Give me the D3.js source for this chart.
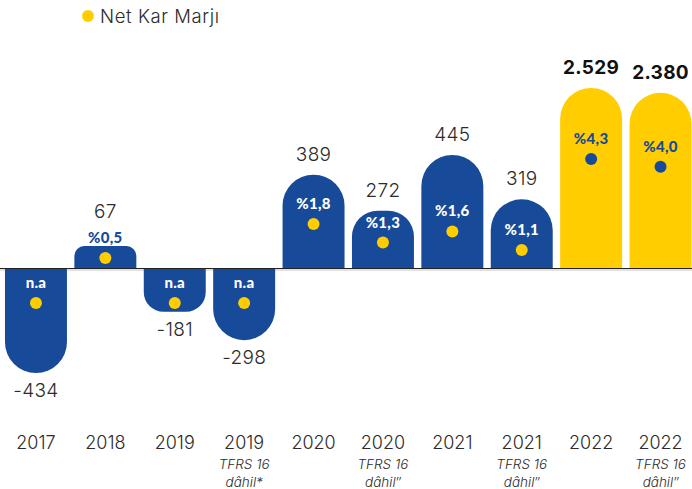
<!DOCTYPE html>
<html>
<head>
<meta charset="utf-8">
<script src="https://cdn.jsdelivr.net/npm/d3@7"></script>
<style>
  html, body { margin: 0; padding: 0; background: #fff; }
  svg { display: block; }
</style>
</head>
<body>
<script>
const categories = ["2017","2018","2019","2019 TFRS","2020","2020 TFRS","2021","2021 TFRS","2022","2022 TFRS"];
const yearLabels = ["2017","2018","2019","2019","2020","2020","2021","2021","2022","2022"];
const subLabel1 = ["","","","TFRS 16","","TFRS 16","","TFRS 16","","TFRS 16"];
const subLabel2 = ["","","","dâhil*","","dâhil\u2033","","dâhil\u2033","","dâhil\u2033"];
const netProfit = [-434, 67, -181, -298, 389, 272, 445, 319, 2529, 2380];
const valueLabels = ["-434","67","-181","-298","389","272","445","319","2.529","2.380"];
const margin = [null, 0.5, null, null, 1.8, 1.3, 1.6, 1.1, 4.3, 4.0];
const marginLabels = ["n.a","%0,5","n.a","n.a","%1,8","%1,3","%1,6","%1,1","%4,3","%4,0"];
const highlighted = [false,false,false,false,false,false,false,false,true,true];
const legendLabel = "Net Kar Marjı";

const W = 692, H = 489;
const NAVY = "#174a98", YELLOW = "#ffcd00", TEXT = "#2b2b2b";
const baseY = 268;

const svg = d3.select("body").append("svg").attr("width", W).attr("height", H);

const x = d3.scaleBand().domain(categories).range([1.5, 695]).paddingInner(0.107).paddingOuter(0.05);
// piecewise linear value scale (the chart compresses large values)
const y = d3.scaleLinear()
  .domain([-450, 0, 67, 300, 445, 2529])
  .range([baseY + 109, baseY, baseY - 22, baseY - 62, baseY - 113, baseY - 180]);
// piecewise margin scale for the dots
const ym = d3.scaleLinear().domain([0.5, 1.1, 1.8, 4.3]).range([258, 250, 224, 159]);
const naY = 303;

const data = categories.map((c, i) => ({
  c, i, v: netProfit[i], label: valueLabels[i], m: margin[i], ml: marginLabels[i], hi: highlighted[i]
}));

function barPath(d) {
  const x0 = x(d.c), x1 = x0 + x.bandwidth();
  const end = y(d.v);
  const h = Math.abs(end - baseY);
  const r = Math.min(x.bandwidth() / 2, h * 0.45);
  if (d.v >= 0) {
    return `M${x0},${baseY} L${x0},${end + r} A${r},${r} 0 0 1 ${x0 + r},${end} L${x1 - r},${end} A${r},${r} 0 0 1 ${x1},${end + r} L${x1},${baseY} Z`;
  } else {
    return `M${x0},${baseY} L${x0},${end - r} A${r},${r} 0 0 0 ${x0 + r},${end} L${x1 - r},${end} A${r},${r} 0 0 0 ${x1},${end - r} L${x1},${baseY} Z`;
  }
}

const dotY = d => d.m == null ? naY : ym(d.m);
const labelY = d => dotY(d) - 15;
const labelOutside = d => d.v >= 0 && labelY(d) - 4 < y(d.v);

// baseline shadow
svg.append("line").attr("x1", 0).attr("x2", W).attr("y1", baseY + 2).attr("y2", baseY + 2)
  .attr("stroke", "#e2e2e2").attr("stroke-width", 2);

svg.append("g").selectAll("path").data(data).join("path")
  .attr("d", barPath)
  .attr("fill", d => d.hi ? YELLOW : NAVY);

svg.append("line").attr("x1", 0).attr("x2", W).attr("y1", baseY + 0.5).attr("y2", baseY + 0.5)
  .attr("stroke", "#222").attr("stroke-width", 1.2);

// value labels
svg.append("g").selectAll("text").data(data).join("text")
  .attr("x", d => x(d.c) + x.bandwidth() / 2)
  .attr("y", d => {
    if (d.v < 0) return y(d.v) + 24;
    const top = labelOutside(d) ? labelY(d) - 11 : y(d.v);
    return top - 14;
  })
  .attr("text-anchor", "middle")
  .attr("font-family", "Inter, 'Open Sans', sans-serif")
  .attr("font-size", 19)
  .attr("letter-spacing", 0.3)
  .attr("font-weight", d => d.hi ? 700 : 300)
  .attr("fill", d => d.hi ? "#111" : TEXT)
  .text(d => d.label);

// margin dots
svg.append("g").selectAll("circle").data(data).join("circle")
  .attr("cx", d => x(d.c) + x.bandwidth() / 2)
  .attr("cy", dotY)
  .attr("r", 6)
  .attr("fill", d => d.hi ? NAVY : YELLOW);

// margin labels
svg.append("g").selectAll("text").data(data).join("text")
  .attr("x", d => x(d.c) + x.bandwidth() / 2)
  .attr("y", labelY)
  .attr("text-anchor", "middle")
  .attr("font-family", "Lato, 'Open Sans', sans-serif")
  .attr("font-size", 15)
  .attr("font-weight", 900)
  .attr("letter-spacing", 0.3)
  .attr("fill", d => (d.hi || labelOutside(d)) ? NAVY : "#fff")
  .text(d => d.ml);

// x labels
const gx = svg.append("g");
gx.selectAll("text.yr").data(data).join("text").attr("class", "yr")
  .attr("x", d => x(d.c) + x.bandwidth() / 2)
  .attr("y", 449)
  .attr("text-anchor", "middle")
  .attr("font-family", "Inter, sans-serif")
  .attr("font-size", 18).attr("font-weight", 300)
  .attr("fill", TEXT)
  .text(d => yearLabels[d.i]);
gx.selectAll("text.s1").data(data).join("text").attr("class", "s1")
  .attr("x", d => x(d.c) + x.bandwidth() / 2)
  .attr("y", 469)
  .attr("text-anchor", "middle")
  .attr("font-family", "Inter, sans-serif")
  .attr("font-size", 13.5).attr("font-style", "italic").attr("font-weight", 300)
  .attr("fill", TEXT)
  .text(d => subLabel1[d.i]);
gx.selectAll("text.s2").data(data).join("text").attr("class", "s2")
  .attr("x", d => x(d.c) + x.bandwidth() / 2)
  .attr("y", 487)
  .attr("text-anchor", "middle")
  .attr("font-family", "Inter, sans-serif")
  .attr("font-size", 13.5).attr("font-style", "italic").attr("font-weight", 300)
  .attr("fill", TEXT)
  .text(d => subLabel2[d.i]);

// legend
svg.append("circle").attr("cx", 88).attr("cy", 16).attr("r", 6).attr("fill", YELLOW);
svg.append("text").attr("x", 100).attr("y", 23)
  .attr("font-family", "Inter, sans-serif").attr("font-size", 18.5).attr("font-weight", 300)
  .attr("letter-spacing", 0.6)
  .attr("fill", TEXT).text(legendLabel);
</script>
</body>
</html>
